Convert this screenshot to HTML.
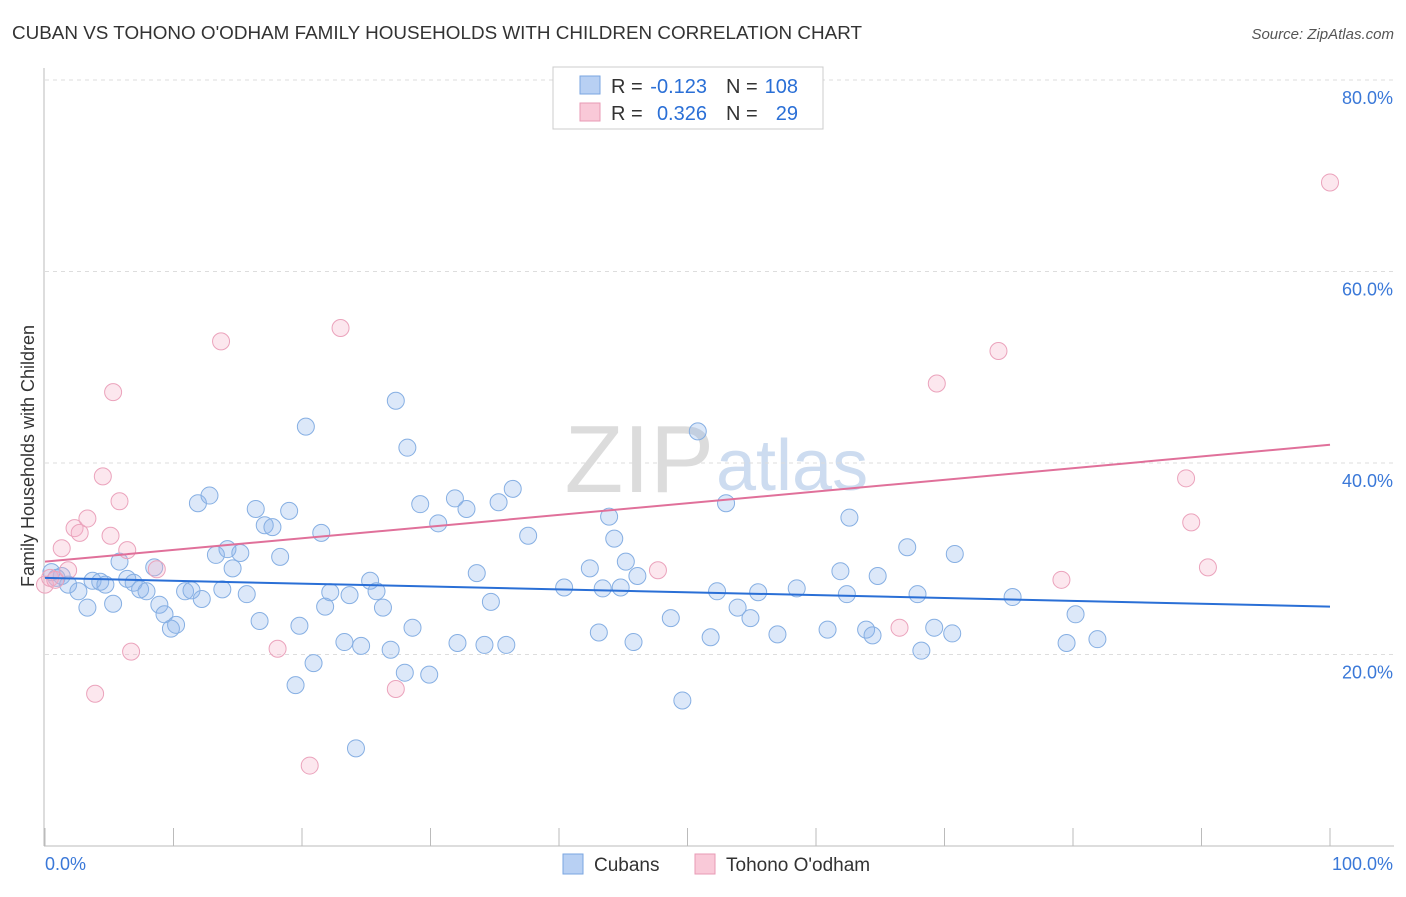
<!DOCTYPE html>
<html><head><meta charset="utf-8"><style>
body{margin:0;background:#fff;font-family:"Liberation Sans",sans-serif;}
svg text{font-family:"Liberation Sans",sans-serif;}
</style></head><body>
<svg id="chart" width="1406" height="892" xmlns="http://www.w3.org/2000/svg">
<text x="12" y="39" font-size="18" fill="#333" textLength="850" lengthAdjust="spacingAndGlyphs">CUBAN VS TOHONO O'ODHAM FAMILY HOUSEHOLDS WITH CHILDREN CORRELATION CHART</text>
<text x="1394" y="39" font-size="15" fill="#555" text-anchor="end" font-style="italic">Source: ZipAtlas.com</text>
<text x="714" y="492" font-size="96" fill="#dcdcdc" text-anchor="end" font-family="Liberation Serif">ZIP</text>
<text x="716" y="490" font-size="72" fill="#cddcf0">atlas</text>
<g id="grid"></g>
<g id="axes"></g>
<g id="pts"></g>
<g id="lines"></g>
<text transform="translate(34,456) rotate(-90)" font-size="18" fill="#333" text-anchor="middle">Family Households with Children</text>
<g>
<rect x="553" y="67" width="270" height="62" fill="#fff" stroke="#ccc"/>
<rect x="580" y="76" width="20" height="18" fill="#b8d0f3" stroke="#7aa6e0"/>
<rect x="580" y="103" width="20" height="18" fill="#f9c9d8" stroke="#e89ab5"/>
<text x="611" y="93" font-size="20" fill="#333">R =</text>
<text x="707" y="93" font-size="20" fill="#2a6fd6" text-anchor="end">-0.123</text>
<text x="726" y="93" font-size="20" fill="#333">N =</text>
<text x="798" y="93" font-size="20" fill="#2a6fd6" text-anchor="end">108</text>
<text x="611" y="120" font-size="20" fill="#333">R =</text>
<text x="707" y="120" font-size="20" fill="#2a6fd6" text-anchor="end">0.326</text>
<text x="726" y="120" font-size="20" fill="#333">N =</text>
<text x="798" y="120" font-size="20" fill="#2a6fd6" text-anchor="end">29</text>
</g>
<g>
<rect x="563" y="854" width="20" height="20" fill="#b8d0f3" stroke="#7aa6e0"/>
<text x="594" y="871" font-size="19" fill="#333">Cubans</text>
<rect x="695" y="854" width="20" height="20" fill="#f9c9d8" stroke="#e89ab5"/>
<text x="726" y="871" font-size="19" fill="#333">Tohono O'odham</text>
</g>
</svg>
<script>
const cubanX=[0.5,0.9,1.3,1.8,2.6,3.3,3.7,4.3,4.7,5.3,5.8,6.4,6.9,7.4,7.9,8.5,8.9,9.3,9.8,10.2,10.9,11.4,11.9,12.2,12.8,13.3,13.8,14.2,14.6,15.2,15.7,16.4,16.7,17.1,17.7,18.3,19.0,19.5,19.8,20.3,20.9,21.5,21.8,22.2,23.3,23.7,24.2,24.6,25.3,25.8,26.3,26.9,27.3,28.0,28.2,28.6,29.2,29.9,30.6,31.9,32.1,32.8,33.6,34.2,34.7,35.3,35.9,36.4,37.6,40.4,42.4,43.1,43.4,43.9,44.3,44.8,45.2,45.8,46.1,48.7,49.6,50.8,51.8,52.3,53.0,53.9,54.9,55.5,57.0,58.5,60.9,61.9,62.4,62.6,63.9,64.4,64.8,67.1,67.9,68.2,69.2,70.6,70.8,75.3,79.5,80.2,81.9];
const cubanY=[28.6,28.0,28.2,27.3,26.6,24.9,27.7,27.6,27.3,25.3,29.7,27.9,27.5,26.8,26.6,29.1,25.2,24.2,22.7,23.1,26.6,26.7,35.8,25.8,36.6,30.4,26.8,31.0,29.0,30.6,26.3,35.2,23.5,33.5,33.3,30.2,35.0,16.8,23.0,43.8,19.1,32.7,25.0,26.5,21.3,26.2,10.2,20.9,27.7,26.6,24.9,20.5,46.5,18.1,41.6,22.8,35.7,17.9,33.7,36.3,21.2,35.2,28.5,21.0,25.5,35.9,21.0,37.3,32.4,27.0,29.0,22.3,26.9,34.4,32.1,27.0,29.7,21.3,28.2,23.8,15.2,43.3,21.8,26.6,35.8,24.9,23.8,26.5,22.1,26.9,22.6,28.7,26.3,34.3,22.6,22.0,28.2,31.2,26.3,20.4,22.8,22.2,30.5,26.0,21.2,24.2,21.6];
const tohonoX=[0,0.4,0.8,1.3,1.8,2.3,2.7,3.3,3.9,4.5,5.1,5.3,5.8,6.4,6.7,8.7,13.7,18.1,20.6,23.0,27.3,47.7,66.5,69.4,74.2,79.1,88.8,89.2,90.5,100];
const tohonoY=[27.3,28.0,27.8,31.1,28.8,33.2,32.7,34.2,15.9,38.6,32.4,47.4,36.0,30.9,20.3,28.9,52.7,20.6,8.4,54.1,16.4,28.8,22.8,48.3,51.7,27.8,38.4,33.8,29.1,69.3];
const cubanTrend=[28.0,25.0];
const tohonoTrend=[29.7,41.9];
const yTicks=[20,40,60,80];
const xTickLabels=["0.0%","100.0%"];
const NS="http://www.w3.org/2000/svg";
const X=v=>45+v*12.85, Y=v=>846-v*9.575;
function mk(t,a,p){const e=document.createElementNS(NS,t);for(const k in a)e.setAttribute(k,a[k]);p.appendChild(e);return e;}
const grid=document.getElementById('grid'),axes=document.getElementById('axes');
yTicks.forEach(t=>{
 const l=mk('line',{x1:45,x2:1394,y1:Y(t),y2:Y(t),stroke:'#ddd','stroke-dasharray':'4,4'},grid);
 
 
 const tx=mk('text',{x:1393,y:Y(t)+24,'font-size':18,fill:'#3a78d8','text-anchor':'end'},axes);
 tx.textContent=t.toFixed(1)+'%';
 
 
});
mk('line',{x1:44,x2:44,y1:68,y2:846,stroke:'#bbb'},axes);
mk('line',{x1:44,x2:1394,y1:846,y2:846,stroke:'#bbb'},axes);
for(let i=0;i<=10;i++){mk('line',{x1:X(i*10),x2:X(i*10),y1:828,y2:846,stroke:'#bbb'},axes);}
const xl0=mk('text',{x:45,y:870,'font-size':18,fill:'#3a78d8'},axes);xl0.textContent=xTickLabels[0];


const xl1=mk('text',{x:1393,y:870,'font-size':18,fill:'#3a78d8','text-anchor':'end'},axes);xl1.textContent=xTickLabels[1];


const pts=document.getElementById('pts');
cubanX.forEach((x,i)=>{const c=mk('circle',{cx:X(x),cy:Y(cubanY[i]),r:8.5,fill:'rgba(140,180,235,0.3)',stroke:'#86afe3','stroke-width':1},pts);
 
 });
tohonoX.forEach((x,i)=>{const c=mk('circle',{cx:X(x),cy:Y(tohonoY[i]),r:8.5,fill:'rgba(245,175,200,0.3)',stroke:'#eba3bc','stroke-width':1},pts);
 
 });
const lines=document.getElementById('lines');
const lb=mk('line',{x1:X(0),x2:X(100),y1:Y(cubanTrend[0]),y2:Y(cubanTrend[1]),stroke:'#2a6fd6','stroke-width':2},lines);


const lp=mk('line',{x1:X(0),x2:X(100),y1:Y(tohonoTrend[0]),y2:Y(tohonoTrend[1]),stroke:'#e0709a','stroke-width':2},lines);


</script>
</body></html>
